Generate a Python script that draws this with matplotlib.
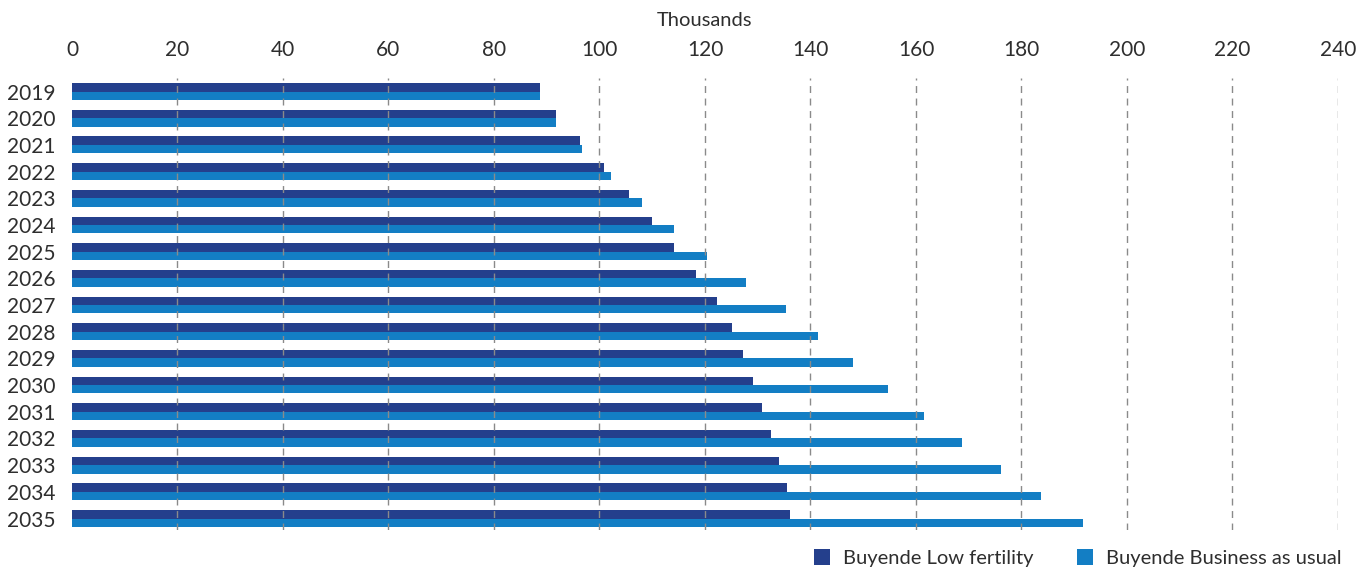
import matplotlib
matplotlib.use("Agg")
import matplotlib.pyplot as plt
from matplotlib.patches import Patch
import numpy as np

# Projected values (thousands) per year
years = [str(y) for y in range(2019, 2036)]
low_fertility = [88.7, 91.7, 96.3, 100.8, 105.6, 109.9, 114.1, 118.3, 122.3,
                 125.1, 127.2, 129.1, 130.8, 132.5, 134.0, 135.5, 136.1]
business_as_usual = [88.7, 91.7, 96.7, 102.2, 108.1, 114.1, 120.4, 127.8, 135.4,
                     141.4, 148.1, 154.7, 161.5, 168.7, 176.1, 183.7, 191.7]
x_ticks = list(range(0, 241, 20))
series_names = ["Buyende Low fertility", "Buyende Business as usual"]

dark = "#243F8C"
light = "#137EC4"
text_color = "#2e2e2e"

plt.rcParams["font.family"] = ["Lato", "DejaVu Sans"]

W, H = 1369, 570
fig = plt.figure(figsize=(W / 100, H / 100), dpi=100)
left, right = 72 / W, 1338 / W
top, bottom = 78 / H, 530 / H
ax = fig.add_axes([left, 1 - bottom, right - left, bottom - top])

pos = np.arange(len(years))
h = 0.315
ax.barh(pos - h / 2, low_fertility, height=h, color=dark, zorder=1)
ax.barh(pos + h / 2, business_as_usual, height=h, color=light, zorder=1)

ax.set_xlim(0, 240)
ax.set_ylim(16.43, -0.506)
ax.set_yticks(pos)
ax.set_yticklabels(years)
ax.set_xticks(x_ticks)
ax.xaxis.tick_top()
ax.xaxis.set_label_position("top")
ax.set_xlabel("Thousands", fontsize=14.5, color=text_color, labelpad=10)
ax.tick_params(axis="both", length=0, labelsize=15, colors=text_color)
ax.tick_params(axis="x", pad=13)
ax.tick_params(axis="y", pad=12)

for s in ax.spines.values():
    s.set_visible(False)

for xv in x_ticks[1:]:
    ax.axvline(xv, color="#8a8a8a", lw=1.0, ls=(0, (5, 4)), zorder=2)

handles = [Patch(facecolor=dark, label=series_names[0]),
           Patch(facecolor=light, label=series_names[1])]
fig.legend(handles=handles, loc="center right", bbox_to_anchor=(1360 / W, 1 - 558 / H),
           ncol=2, frameon=False, fontsize=14.5, handlelength=0.8, handleheight=0.8,
           handletextpad=0.65, columnspacing=2.15, labelcolor=text_color)

fig.savefig("out.png", dpi=100)
